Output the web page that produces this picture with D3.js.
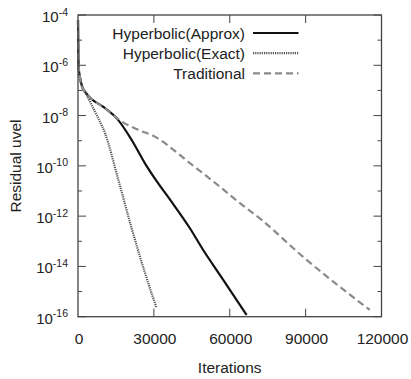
<!DOCTYPE html>
<html>
<head>
<meta charset="utf-8">
<script src="https://cdn.jsdelivr.net/npm/d3@7"></script>
<style>
  body{margin:0;background:#fff;}
  svg text{font-family:"Liberation Sans",Arial,sans-serif;fill:#222;}
</style>
</head>
<body>
<svg id="chart" width="411" height="379"></svg>
<script>
// values
const approxIter=[0,100,250,800,1700,3150,5000,10000,15920,21220,26470,31730,37020,44250,49500,56100,66650];
const approxRes=[6.3e-5,6.3e-6,8.7e-7,3.2e-7,1.4e-7,7.9e-8,4.9e-8,2.2e-8,6.6e-9,1.07e-9,1.26e-10,2.0e-11,3.7e-12,3.3e-13,4.5e-14,4.6e-15,1.17e-16];

const exactIter=[0,100,250,800,1500,3300,5500,8000,10670,15960,21220,26120,30950];
const exactRes=[6.3e-5,6.3e-6,8.7e-7,3.2e-7,1.4e-7,7.1e-8,2.5e-8,7.9e-9,2.0e-9,2.75e-11,3.3e-13,7.2e-15,2.4e-16];

const tradIter=[0,100,250,800,1700,3150,5000,10000,17270,23820,30420,37020,43580,50180,56780,63330,72580,88900,115370];
const tradRes=[6.3e-5,6.3e-6,8.7e-7,3.2e-7,1.4e-7,7.9e-8,4.9e-8,2.2e-8,5.8e-9,2.7e-9,1.45e-9,5.0e-10,1.45e-10,4.4e-11,1.3e-11,3.7e-12,7.1e-13,2.45e-14,1.86e-16];

const xTicks=[0,30000,60000,90000,120000];
const yMajor=[-4,-6,-8,-10,-12,-14,-16];
const yMinor=[-5,-7,-9,-11,-13,-15];

const series=[
  {name:"Hyperbolic(Approx)",iter:approxIter,res:approxRes,color:"#111",dash:"",width:2.2},
  {name:"Hyperbolic(Exact)",iter:exactIter,res:exactRes,color:"#555",dash:"1.2,1",width:2.2},
  {name:"Traditional",iter:tradIter,res:tradRes,color:"#8a8a8a",dash:"7,4",width:2.2}
];

const mLeft=78,mRight=381.5,mTop=15,mBottom=316.7;
const frameColor="#444";

const svg=d3.select("#chart");
const x=d3.scaleLinear().domain([0,120000]).range([mLeft,mRight]);
const y=d3.scaleLog().domain([1e-16,1e-4]).range([mBottom,mTop]);

// curves
const line=d3.line().x(d=>x(d[0])).y(d=>y(d[1])).curve(d3.curveMonotoneX);
const plot=svg.append("g");
series.forEach(s=>{
  plot.append("path")
    .datum(s.iter.map((v,i)=>[v,s.res[i]]))
    .attr("d",line)
    .attr("fill","none")
    .attr("stroke",s.color)
    .attr("stroke-width",s.width)
    .attr("stroke-dasharray",s.dash)
});

// ticks (inside, mirrored)
const ticks=svg.append("g").attr("stroke",frameColor).attr("stroke-width",1);
xTicks.slice(1,-1).forEach(t=>{
  ticks.append("line").attr("x1",x(t)).attr("x2",x(t)).attr("y1",mBottom).attr("y2",mBottom-8)
  ticks.append("line").attr("x1",x(t)).attr("x2",x(t)).attr("y1",mTop).attr("y2",mTop+8)
});
yMajor.forEach(e=>{
  const yy=y(Math.pow(10,e));
  ticks.append("line").attr("x1",mLeft).attr("x2",mLeft+8).attr("y1",yy).attr("y2",yy)
  ticks.append("line").attr("x1",mRight).attr("x2",mRight-8).attr("y1",yy).attr("y2",yy)
});
yMinor.forEach(e=>{
  const yy=y(Math.pow(10,e));
  ticks.append("line").attr("x1",mLeft).attr("x2",mLeft+4).attr("y1",yy).attr("y2",yy)
  ticks.append("line").attr("x1",mRight).attr("x2",mRight-4).attr("y1",yy).attr("y2",yy)
});

// frame
svg.append("rect")
  .attr("x",mLeft).attr("y",mTop)
  .attr("width",mRight-mLeft).attr("height",mBottom-mTop)
  .attr("fill","none").attr("stroke",frameColor).attr("stroke-width",1.3);

// x tick labels
svg.append("g").selectAll("text").data(xTicks).join("text")
  .attr("x",d=>x(d)+1)
  .attr("y",mBottom+27)
  .attr("text-anchor","middle")
  .attr("font-size","15.5px")
  .text(d=>d);

// y tick labels 10^n
yMajor.forEach(e=>{
  const yy=y(Math.pow(10,e));
  const t=svg.append("text")
    .attr("x",68).attr("y",yy+7)
    .attr("text-anchor","end")
    .attr("font-size","15px");
  t.append("tspan").text("10");
  t.append("tspan").attr("dy",-6.5).attr("font-size","10.5px").text(`${e}`);
});

// axis titles
svg.append("text")
  .attr("x",(mLeft+mRight)/2).attr("y",373)
  .attr("text-anchor","middle").attr("font-size","15.5px")
  .text("Iterations");
svg.append("text")
  .attr("transform","translate(21,166) rotate(-90)")
  .attr("text-anchor","middle").attr("font-size","15.5px")
  .text("Residual uvel");

// legend
const legend=svg.append("g");
series.forEach((s,i)=>{
  const by=39+i*20.2;
  legend.append("text")
    .attr("x",245).attr("y",by)
    .attr("text-anchor","end").attr("font-size","15.5px")
    .text(s.name);
  legend.append("line")
    .attr("x1",253).attr("x2",298.5)
    .attr("y1",by-6).attr("y2",by-6)
    .attr("stroke",s.color)
    .attr("stroke-width",s.width)
    .attr("stroke-dasharray",s.dash)
});
</script>
</body>
</html>
